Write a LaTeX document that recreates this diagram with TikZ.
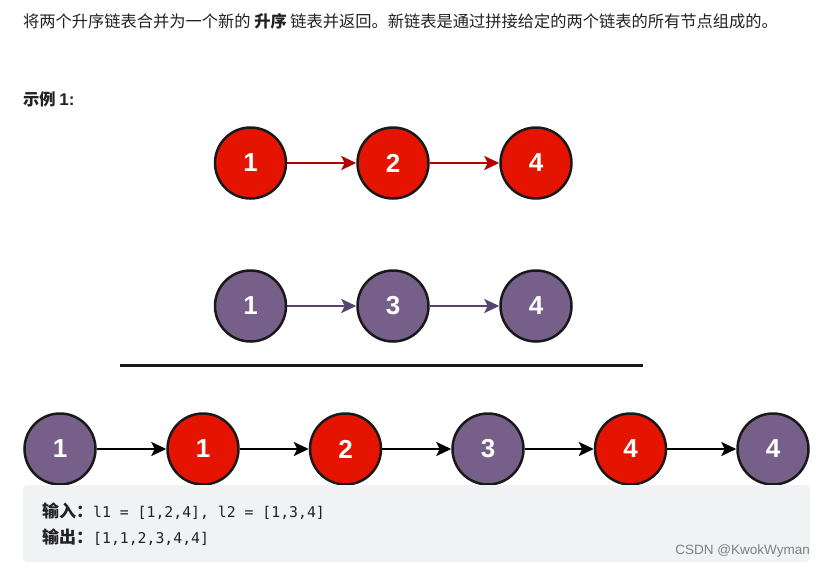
\documentclass[tikz,border=0pt]{standalone}
\usepackage{fontspec}
\setmainfont{Noto Sans CJK SC}
\newfontfamily\digitfont{Liberation Sans}
\newfontfamily\codefont{DejaVu Sans Mono}
\usetikzlibrary{arrows.meta}
\definecolor{listred}{HTML}{E51400}
\definecolor{listpurple}{HTML}{76608A}
\definecolor{arrowred}{HTML}{B20000}
\definecolor{arrowpurple}{HTML}{5A4272}
\definecolor{boxgray}{HTML}{F1F2F4}
\definecolor{inkgray}{HTML}{222226}
\tikzset{
	listnode/.style={circle,draw=black!90,line width=2.5pt,minimum size=71pt,inner sep=0pt,text=white,font=\digitfont\fontsize{26}{26}\selectfont\bfseries},
	rednode/.style={listnode,fill=listred},
	purplenode/.style={listnode,fill=listpurple},
	link/.style={line width=2.5pt,-{Stealth[length=15pt,width=14pt,inset=3.5pt]}},
	doc/.style={anchor=base west,inner sep=0pt,text=inkgray,font=\fontsize{16.25}{16.25}\selectfont},
	code/.style={anchor=base west,inner sep=0pt,text=inkgray,font=\fontsize{17}{17}\selectfont}
}
\newcommand{\codetext}[1]{{\codefont\fontsize{14.8}{14.8}\selectfont #1}}
\begin{document}
\begin{tikzpicture}[x=1pt,y=1pt]
	\useasboundingbox (0,0) rectangle (825,-566);
	\fill[white] (0,0) rectangle (825,-566);
	\node at (23,-27) [doc] (intro) {将两个升序链表合并为一个新的 \textbf{升序} 链表并返回。新链表是通过拼接给定的两个链表的所有节点组成的。};
	\node at (23,-105) [doc] (example) {\textbf{示例 {\digitfont\fontsize{17}{17}\selectfont 1:}}};

	\node at (250.5,-163) [rednode] (a1) {1};
	\node at (393,-163) [rednode] (a2) {2};
	\node at (536,-163) [rednode] (a3) {4};
	\draw[link,arrowred] (a1) -- (a2);
	\draw[link,arrowred] (a2) -- (a3);

	\node at (250.5,-306) [purplenode] (b1) {1};
	\node at (393,-306) [purplenode] (b2) {3};
	\node at (536,-306) [purplenode] (b3) {4};
	\draw[link,arrowpurple] (b1) -- (b2);
	\draw[link,arrowpurple] (b2) -- (b3);

	\coordinate (ruleleft) at (120,-365.5);
	\coordinate (ruleright) at (643,-365.5);
	\draw[line width=2.6pt,black!90] (ruleleft) -- (ruleright);

	\node at (60,-449) [purplenode] (c1) {1};
	\node at (203,-449) [rednode] (c2) {1};
	\node at (345.5,-449) [rednode] (c3) {2};
	\node at (488,-449) [purplenode] (c4) {3};
	\node at (630.5,-449) [rednode] (c5) {4};
	\node at (773,-449) [purplenode] (c6) {4};
	\draw[link] (c1) -- (c2);
	\draw[link] (c2) -- (c3);
	\draw[link] (c3) -- (c4);
	\draw[link] (c4) -- (c5);
	\draw[link] (c5) -- (c6);

	\fill[boxgray,rounded corners=4pt] (23,-485) rectangle (810,-562);
	\node at (42,-517) [code] (input) {\textbf{输入：}\codetext{l1 = [1,2,4], l2 = [1,3,4]}};
	\node at (42,-543) [code] (output) {\textbf{输出：}\codetext{[1,1,2,3,4,4]}};
	\node at (810,-554) [anchor=base east,inner sep=0pt,text=black!50,font=\digitfont\fontsize{13.5}{13.5}\selectfont] (mark) {CSDN @KwokWyman};
\end{tikzpicture}
\end{document}
